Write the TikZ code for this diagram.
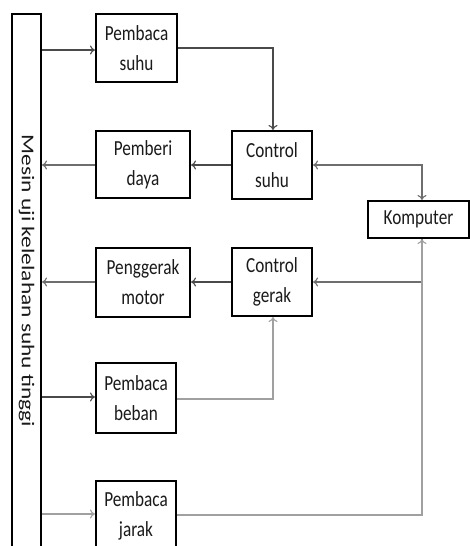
\documentclass[tikz,border=0pt]{standalone}
\usepackage{fontspec}
\setmainfont{Carlito}[FakeStretch=0.8]
\newfontfamily\sidefont{Carlito}[FakeStretch=1.3]
\usetikzlibrary{arrows.meta}
\definecolor{txt}{HTML}{1A1A1A}
\definecolor{darkln}{HTML}{4A4A4A}
\definecolor{midln}{HTML}{6E6E6E}
\definecolor{lightln}{HTML}{A0A0A0}
\tikzset{
  blk/.style={draw=black, line width=2pt, fill=white, text=txt, align=center, inner sep=0pt,
    font=\fontsize{21.5}{30}\selectfont},
  conn/.style={line width=1.1pt, draw=darkln, -{To[length=5pt,width=9pt]}},
}
\begin{document}
\begin{tikzpicture}[x=1pt,y=-1pt]
\useasboundingbox (0,0) rectangle (470,546);
\clip (0,0) rectangle (470,546);
% main vertical box
\node[blk, minimum width=29.5pt, minimum height=536pt] (main) at (26.25,282) {};
\node[text=txt, rotate=-90, font=\sidefont\fontsize{18}{20}\selectfont] (maintxt) at (26.5,281) {Mesin uji kelelahan suhu tinggi};
% blocks
\node[blk, minimum width=81pt, minimum height=68pt] (ps) at (136.5,48) {Pembaca\\suhu};
\node[blk, minimum width=94pt, minimum height=67pt] (pd) at (143,164.5) {Pemberi\\daya};
\node[blk, minimum width=80pt, minimum height=68pt] (cs) at (272,165) {Control\\suhu};
\node[blk, minimum width=101pt, minimum height=37pt] (kom) at (418.5,219.5) {Komputer};
\node[blk, minimum width=94pt, minimum height=69pt] (pm) at (143,282.5) {Penggerak\\motor};
\node[blk, minimum width=80pt, minimum height=68pt] (cg) at (272,282) {Control\\gerak};
\node[blk, minimum width=80pt, minimum height=70pt] (pb) at (136,398) {Pembaca\\beban};
\node[blk, minimum width=80pt, minimum height=70pt] (pj) at (136,516) {Pembaca\\jarak};
% helper coordinates
\coordinate (kx) at (422,219.5);
\coordinate (sx) at (273,48);
\coordinate (bx) at (273,399);
% connectors
\draw[conn] (main.east |- 0,50) -- (ps.west |- 0,50);
\draw[conn] (ps.east) -- (sx) -- (cs.north -| sx);
\draw[conn] (cs.west) -- (pd.east |- cs.west);
\draw[conn, draw=midln] (pd.west |- 0,165) -- (main.east |- 0,165);
\draw[conn, {To[length=5pt,width=9pt]}-{To[length=5pt,width=9pt]}, draw=midln] (kom.north -| kx) -- (kx |- cs.east) -- (cs.east);
\draw[conn] (cg.west) -- (pm.east |- cg.west);
\draw[conn, draw=midln] (pm.west |- 0,282) -- (main.east |- 0,282);
\draw[conn, draw=midln] (kx |- kom.south) -- (kx |- cg.east) -- (cg.east);
\draw[conn] (main.east |- 0,397) -- (pb.west |- 0,397);
\draw[conn, draw=lightln] (pb.east |- 0,399) -- (bx) -- (cg.south -| bx);
\draw[conn, draw=lightln] (main.east |- 0,514) -- (pj.west |- 0,514);
\draw[conn, draw=lightln] (pj.east |- 0,515) -- (kx |- 0,515) -- (kx |- kom.south);
\end{tikzpicture}
\end{document}
